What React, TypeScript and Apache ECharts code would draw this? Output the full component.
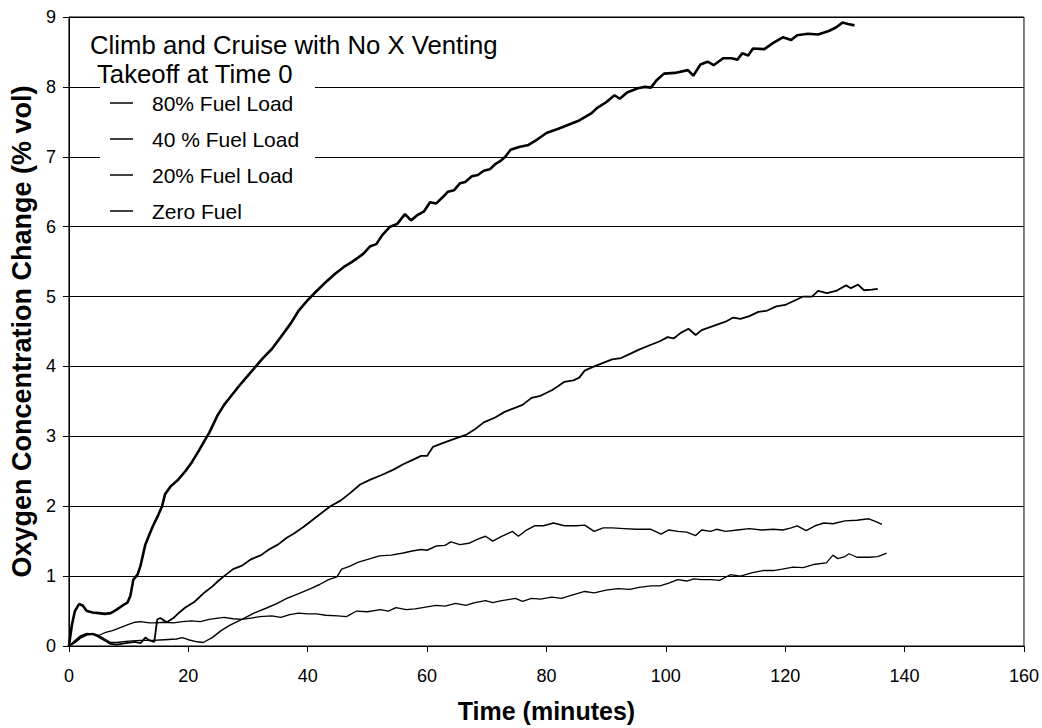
import React, { useEffect, useRef } from "react";
import * as echarts from "echarts";

const xTicks = [0, 20, 40, 60, 80, 100, 120, 140, 160];
const yTicks = [0, 1, 2, 3, 4, 5, 6, 7, 8, 9];
const seriesNames = ["80% Fuel Load", "40 % Fuel Load", "20% Fuel Load", "Zero Fuel"];
const titleLines = ["Climb and Cruise with No X Venting", "Takeoff at Time 0"];

const t80 = [0, 0.5, 1, 1.7, 2.3, 3, 4, 5, 6, 7, 8, 9, 9.8, 10.3, 10.8, 11.5, 12, 12.8, 13.5, 14.1, 15, 15.6, 16.1, 17, 18.3, 19.5, 20.6, 21.8, 22.8, 23.5, 24.9, 26, 27.2, 28.5, 29.7, 31.1, 32.5, 34, 35.5, 37.2, 38.5, 40, 41.5, 43.2, 44.5, 46, 47.5, 49.3, 50.5, 51.5, 52.5, 53.8, 55, 56.3, 57.3, 58.3, 59.5, 60.5, 61.5, 62.6, 63.5, 64.5, 65.5, 66.4, 67.5, 68.5, 69.5, 70.5, 71.5, 72.3, 73.1, 74, 75.4, 77, 78.5, 80, 82, 84, 85.5, 87.5, 88.5, 90, 91.4, 92.3, 93.5, 95.3, 96.5, 97.5, 98.5, 99.7, 101.5, 103.7, 104.6, 105.8, 107, 108, 109.6, 111, 112, 112.8, 113.8, 114.6, 116.5, 118, 119.6, 121, 122, 123.8, 125.5, 127.3, 128.5, 129.6, 130.5, 131.6];
const v80 = [0, 0.3, 0.5, 0.6, 0.58, 0.5, 0.48, 0.47, 0.46, 0.47, 0.52, 0.58, 0.62, 0.72, 0.95, 1.02, 1.15, 1.45, 1.6, 1.72, 1.88, 2.0, 2.17, 2.28, 2.38, 2.5, 2.63, 2.8, 2.95, 3.05, 3.3, 3.45, 3.58, 3.72, 3.84, 3.98, 4.12, 4.25, 4.42, 4.62, 4.8, 4.95, 5.08, 5.22, 5.32, 5.42, 5.5, 5.61, 5.72, 5.75, 5.88, 6.0, 6.04, 6.18, 6.09, 6.16, 6.22, 6.35, 6.33, 6.42, 6.5, 6.52, 6.62, 6.64, 6.72, 6.74, 6.8, 6.82, 6.9, 6.94, 7.0, 7.1, 7.14, 7.17, 7.25, 7.34, 7.4, 7.47, 7.52, 7.62, 7.7, 7.78, 7.88, 7.83, 7.92, 7.98, 8.0, 7.99, 8.1, 8.19, 8.2, 8.24, 8.16, 8.32, 8.36, 8.31, 8.41, 8.41, 8.39, 8.48, 8.45, 8.55, 8.54, 8.63, 8.71, 8.67, 8.74, 8.76, 8.75, 8.8, 8.85, 8.92, 8.9, 8.88];

const t40 = [0, 1, 2, 3, 4, 5, 6, 7, 8, 9.5, 11, 12, 12.8, 13.5, 14.3, 14.8, 15.3, 16.4, 17.5, 18.5, 19.5, 21, 22.5, 24, 25, 26, 27.5, 29, 30.5, 32.2, 33.5, 35, 36.5, 37.7, 39.4, 41.5, 43.8, 45.5, 47, 48.8, 50.5, 52.5, 54.3, 56, 57.5, 59, 60, 61, 62.5, 64.8, 66.5, 68, 69.5, 71.4, 73, 74.5, 76, 77.5, 79, 80.9, 82, 83, 84.5, 85.5, 86.4, 88, 89.5, 91, 92.5, 94, 95.5, 97.5, 99, 100.3, 101.3, 102.5, 103.8, 105, 106, 108, 110, 111.3, 112.5, 114, 115.5, 117, 118.5, 120, 121.5, 123, 124.5, 125.5, 127, 128.5, 130.2, 131, 132.2, 133.2, 134.5, 135.5];
const v40 = [0, 0.05, 0.12, 0.16, 0.17, 0.13, 0.08, 0.03, 0.02, 0.04, 0.06, 0.04, 0.12, 0.08, 0.06, 0.38, 0.4, 0.34, 0.4, 0.48, 0.55, 0.63, 0.75, 0.85, 0.93, 1.0, 1.1, 1.15, 1.24, 1.3, 1.38, 1.45, 1.55, 1.61, 1.71, 1.85, 2.0, 2.08, 2.18, 2.31, 2.38, 2.45, 2.52, 2.6, 2.66, 2.72, 2.72, 2.85, 2.9, 2.97, 3.02, 3.1, 3.2, 3.27, 3.35, 3.4, 3.45, 3.55, 3.58, 3.66, 3.72, 3.78, 3.8, 3.84, 3.94, 4.0, 4.05, 4.1, 4.12, 4.18, 4.24, 4.31, 4.36, 4.42, 4.4, 4.48, 4.54, 4.45, 4.52, 4.58, 4.64, 4.7, 4.68, 4.72, 4.78, 4.8, 4.86, 4.88, 4.94, 5.0, 5.0, 5.08, 5.05, 5.08, 5.16, 5.12, 5.17, 5.09, 5.1, 5.11];

const t20 = [0, 1, 2, 3, 4, 5, 6, 7, 8, 10, 12, 14, 16, 18, 19, 20, 21.5, 22.5, 24, 25.5, 27, 29.4, 31, 33, 34.9, 36.5, 38.5, 40.5, 42, 43.5, 44.9, 45.7, 47, 48.5, 50.5, 52, 54, 56, 57.5, 59, 60, 61.5, 63, 64, 65.5, 67, 68.5, 69.8, 71, 72.5, 74.3, 75.3, 76.5, 78, 79.5, 81.2, 83, 85, 86.4, 88, 89.5, 91, 93, 95, 97.5, 99.2, 100.5, 102, 103.5, 105, 106, 107.5, 108.5, 110, 112, 114, 116, 118, 119.6, 121, 122, 123.5, 125, 126.5, 128, 130, 132, 134, 135.2, 136.2];
const v20 = [0, 0.06, 0.13, 0.17, 0.18, 0.15, 0.1, 0.05, 0.05, 0.07, 0.08, 0.08, 0.09, 0.1, 0.12, 0.09, 0.06, 0.05, 0.12, 0.22, 0.3, 0.4, 0.47, 0.54, 0.61, 0.68, 0.75, 0.82, 0.88, 0.95, 0.99, 1.1, 1.14, 1.2, 1.25, 1.29, 1.3, 1.33, 1.36, 1.38, 1.37, 1.43, 1.44, 1.49, 1.45, 1.47, 1.53, 1.57, 1.5, 1.57, 1.64, 1.57, 1.65, 1.72, 1.72, 1.76, 1.72, 1.72, 1.73, 1.64, 1.69, 1.69, 1.68, 1.67, 1.67, 1.6, 1.66, 1.64, 1.63, 1.58, 1.66, 1.64, 1.67, 1.64, 1.66, 1.68, 1.66, 1.67, 1.66, 1.69, 1.72, 1.65, 1.72, 1.76, 1.75, 1.79, 1.8, 1.82, 1.78, 1.74];

const t0 = [0, 1, 2, 3, 4, 5, 6, 7.3, 8.5, 10, 11.1, 12, 13.5, 14.5, 16, 17.5, 19, 20.5, 22, 23.5, 25, 26, 27.5, 29, 30.5, 32, 34, 35.5, 37, 38.5, 40, 41.5, 43, 45, 46.5, 48.2, 50, 52.2, 53.5, 54.8, 56.5, 58, 60, 61.5, 63, 64.8, 66.5, 68, 69.8, 71, 72.5, 74.8, 76, 77.5, 79, 80.9, 82.5, 84, 86.4, 88, 90, 92, 94, 95.5, 97.5, 99, 100.5, 102, 103.5, 104.7, 106, 107.5, 109, 110.8, 112.5, 114.5, 116.3, 118, 119.5, 121.3, 123, 125, 126.9, 128, 128.8, 130, 130.7, 132, 134, 135.5, 137];
const v0 = [0, 0.08, 0.15, 0.18, 0.17, 0.15, 0.19, 0.22, 0.26, 0.31, 0.34, 0.35, 0.33, 0.33, 0.34, 0.33, 0.35, 0.36, 0.35, 0.38, 0.4, 0.41, 0.39, 0.38, 0.4, 0.42, 0.43, 0.41, 0.45, 0.47, 0.46, 0.46, 0.44, 0.43, 0.42, 0.5, 0.49, 0.52, 0.5, 0.55, 0.52, 0.53, 0.56, 0.58, 0.57, 0.61, 0.58, 0.62, 0.65, 0.62, 0.65, 0.68, 0.64, 0.68, 0.67, 0.7, 0.68, 0.72, 0.78, 0.76, 0.8, 0.82, 0.81, 0.84, 0.86, 0.86, 0.9, 0.95, 0.93, 0.96, 0.95, 0.95, 0.94, 1.02, 1.0, 1.05, 1.08, 1.08, 1.1, 1.13, 1.12, 1.17, 1.19, 1.3, 1.25, 1.28, 1.32, 1.27, 1.27, 1.28, 1.33];

const pairs = (t: number[], v: number[]) => t.map((x, i) => [x, v[i]]);

export default function App() {
  const ref = useRef<HTMLDivElement>(null);
  useEffect(() => {
    if (!ref.current) return;
    const chart = echarts.init(ref.current, null, { renderer: "svg" });
    const font = "Arial, 'Liberation Sans', sans-serif";
    const widths = [2.6, 1.8, 1.4, 1.3];
    const datas = [pairs(t80, v80), pairs(t40, v40), pairs(t20, v20), pairs(t0, v0)];
    chart.setOption({
      animation: false,
      backgroundColor: "#fff",
      grid: {
        left: 65,
        right: 16,
        top: 17,
        height: 635,
        show: true,
        borderColor: "#000",
        borderWidth: 1,
        backgroundColor: "transparent",
      },
      xAxis: {
        type: "value",
        min: 0,
        max: 160,
        interval: 20,
        name: "Time (minutes)",
        nameLocation: "middle",
        nameGap: 52,
        nameTextStyle: { fontFamily: font, fontSize: 25, fontWeight: "bold", color: "#000" },
        axisLine: { show: true, lineStyle: { color: "#000", width: 1 } },
        axisTick: { show: true, length: 6, lineStyle: { color: "#000" } },
        axisLabel: {
          margin: 21,
          fontFamily: font,
          fontSize: 18,
          color: "#000",
          formatter: (v: number) => (xTicks.includes(v) ? String(v) : ""),
        },
        splitLine: { show: false },
      },
      yAxis: {
        type: "value",
        min: 0,
        max: 9,
        interval: 1,
        name: "Oxygen Concentration Change (% vol)",
        nameLocation: "middle",
        nameGap: 33,
        nameTextStyle: { fontFamily: font, fontSize: 27, fontWeight: "bold", color: "#000" },
        axisLine: { show: true, lineStyle: { color: "#000", width: 1 } },
        axisTick: { show: true, length: 6, lineStyle: { color: "#000" } },
        axisLabel: {
          margin: 13,
          fontFamily: font,
          fontSize: 18,
          color: "#000",
          formatter: (v: number) => (yTicks.includes(v) ? String(v) : ""),
        },
        splitLine: { show: true, lineStyle: { color: "#000", width: 1 } },
      },
      legend: {
        orient: "vertical",
        left: 110,
        top: 92,
        padding: 0,
        itemGap: 14,
        itemWidth: 23,
        itemHeight: 1.5,
        icon: "rect",
        data: seriesNames,
        itemStyle: { color: "#000" },
        textStyle: {
          fontFamily: font,
          fontSize: 21,
          color: "#000",
          lineHeight: 22,
          padding: [0, 0, 0, 14],
        },
        selectedMode: false,
        z: 5,
      },
      graphic: [
        {
          type: "rect",
          z: 1,
          silent: true,
          shape: { x: 100, y: 30, width: 215, height: 194 },
          style: { fill: "#fff" },
        },
        {
          type: "text",
          z: 6,
          x: 90,
          y: 33,
          scaleX: 1.03,
          style: { text: titleLines[0], font: `25px ${font}`, fill: "#000" },
        },
        {
          type: "text",
          z: 6,
          x: 97,
          y: 62,
          scaleX: 1.03,
          style: { text: titleLines[1], font: `25px ${font}`, fill: "#000" },
        },
      ],
      series: seriesNames.map((name, i) => ({
        name,
        type: "line",
        data: datas[i],
        symbol: "none",
        showSymbol: false,
        smooth: false,
        z: 3,
        lineStyle: { color: "#000", width: widths[i] },
        itemStyle: { color: "#000" },
      })),
    });
    return () => chart.dispose();
  }, []);
  return (
    <div
      ref={ref}
      style={{ position: "fixed", left: 0, top: 0, width: 1042, height: 728, background: "#fff" }}
    />
  );
}
